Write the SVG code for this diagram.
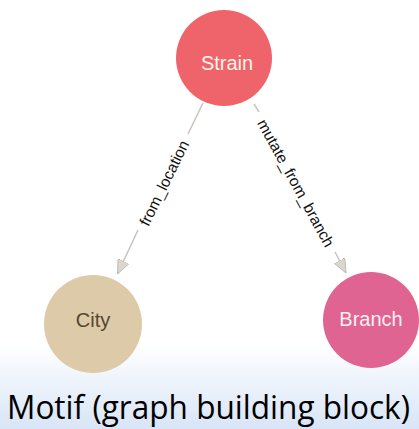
<svg xmlns="http://www.w3.org/2000/svg" width="419" height="429" viewBox="0 0 419 429">
  <defs>
    <linearGradient id="bg" x1="0" y1="0" x2="0" y2="429" gradientUnits="userSpaceOnUse">
      <stop offset="0" stop-color="#ffffff"/>
      <stop offset="0.8" stop-color="#ffffff"/>
      <stop offset="1" stop-color="#d8e5f7"/>
    </linearGradient>
    <marker id="arrow" viewBox="0 0 14 12" refX="14" refY="6" markerWidth="14" markerHeight="12" markerUnits="userSpaceOnUse" orient="auto">
      <path d="M0,0 L14,6 L0,12 z" fill="#dcd6d0" stroke="#bdb5ad" stroke-width="0.8"/>
    </marker>
    <style>
      .edge { stroke: #c9c3bd; stroke-width: 1.5; fill: none; }
      .elabel { font-family: "Liberation Sans", Arial, sans-serif; font-size: 15.5px; fill: #111111; text-anchor: middle; dominant-baseline: central; }
      .nlabel { font-family: "Liberation Sans", Arial, sans-serif; font-size: 20px; text-anchor: middle; }
      .title { font-family: "Open Sans", "Liberation Sans", sans-serif; font-size: 32px; fill: #000000; }
    </style>
  </defs>
  <rect x="0" y="0" width="419" height="429" fill="url(#bg)"/>

  <g id="connectors">
    <g id="edge-from_location">
      <line class="edge" x1="203" y1="103" x2="188" y2="134"/>
      <line class="edge" x1="138" y1="230" x2="117.5" y2="274" marker-end="url(#arrow)"/>
      <text class="elabel" transform="translate(164,183) rotate(-63.8)">from_location</text>
    </g>
    <g id="edge-mutate_from_branch">
      <line class="edge" x1="254" y1="104" x2="259" y2="112"/>
      <line class="edge" x1="335" y1="252" x2="346" y2="273" marker-end="url(#arrow)"/>
      <text class="elabel" transform="translate(296,183) rotate(61.3)">mutate_from_branch</text>
    </g>
  </g>

  <g id="node-strain">
    <circle cx="224" cy="58" r="48" fill="#ef636b"/>
    <text class="nlabel" x="227" y="70" fill="#fdf3ea">Strain</text>
  </g>
  <g id="node-city">
    <circle cx="93" cy="324" r="49" fill="#dccaa9"/>
    <text class="nlabel" x="93" y="327" fill="#55462f">City</text>
  </g>
  <g id="node-branch">
    <circle cx="371" cy="320" r="48" fill="#df6491"/>
    <text class="nlabel" x="371" y="326" fill="#fbeef2">Branch</text>
  </g>

  <text class="title" x="7" y="419" textLength="403" lengthAdjust="spacingAndGlyphs">Motif (graph building block)</text>
</svg>
